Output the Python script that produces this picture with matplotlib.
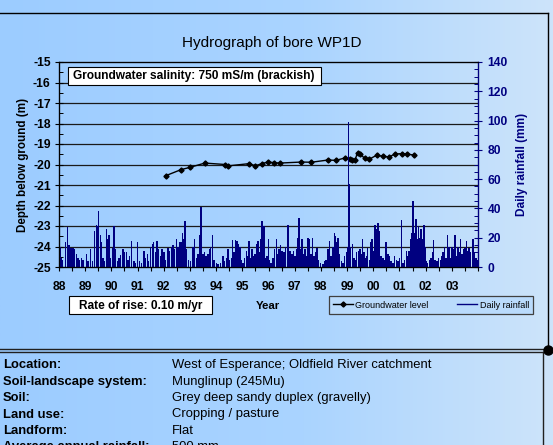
import numpy as np
import matplotlib
matplotlib.use("Agg")
import matplotlib.pyplot as plt
from matplotlib.lines import Line2D
from matplotlib.patches import Rectangle
from matplotlib.colors import LinearSegmentedColormap
from matplotlib.ticker import MultipleLocator, FixedLocator

plt.rcParams['font.family'] = ['Liberation Sans', 'DejaVu Sans']

# ---------------- data ----------------
gw_years = [1992.07, 1992.66, 1993.00, 1993.57, 1994.34, 1994.44, 1995.25, 1995.50,
            1995.74, 1995.97, 1996.22, 1996.43, 1997.26, 1997.64, 1998.28, 1998.57,
            1998.92, 1999.10, 1999.17, 1999.30, 1999.40, 1999.49, 1999.68, 1999.83,
            2000.13, 2000.38, 2000.61, 2000.82, 2001.08, 2001.29, 2001.55]
gw_depth = [-20.55, -20.25, -20.14, -19.93, -20.00, -20.07, -19.96, -20.06,
            -19.96, -19.88, -19.91, -19.93, -19.88, -19.89, -19.78, -19.80,
            -19.68, -19.75, -19.80, -19.80, -19.42, -19.49, -19.70, -19.75,
            -19.55, -19.60, -19.63, -19.49, -19.47, -19.49, -19.54]

rain_years = [
    1988.03, 1988.09, 1988.13, 1988.24, 1988.32, 1988.38, 1988.45, 1988.53, 1988.60, 1988.66,
    1988.73, 1988.79, 1988.85, 1988.92, 1989.04, 1989.11, 1989.21, 1989.27, 1989.36, 1989.44,
    1989.46, 1989.51, 1989.58, 1989.62, 1989.68, 1989.74, 1989.81, 1989.87, 1989.91, 1989.97,
    1990.04, 1990.10, 1990.15, 1990.23, 1990.29, 1990.34, 1990.44, 1990.51, 1990.57, 1990.63,
    1990.70, 1990.77, 1990.86, 1990.91, 1990.99, 1991.08, 1991.14, 1991.24, 1991.31, 1991.37,
    1991.42, 1991.50, 1991.56, 1991.61, 1991.69, 1991.74, 1991.80, 1991.87, 1991.93, 1992.01,
    1992.07, 1992.16, 1992.22, 1992.29, 1992.35, 1992.41, 1992.48, 1992.54, 1992.62, 1992.67,
    1992.71, 1992.77, 1992.81, 1992.87, 1992.95, 1993.03, 1993.11, 1993.18, 1993.25,
    1993.31, 1993.37, 1993.43, 1993.50, 1993.56, 1993.62, 1993.69, 1993.75, 1993.79, 1993.87,
    1993.92, 1994.01, 1994.07, 1994.17, 1994.26, 1994.32, 1994.39, 1994.45, 1994.51, 1994.58,
    1994.62, 1994.68, 1994.74, 1994.79, 1994.86, 1994.91, 1994.96, 1995.02, 1995.09, 1995.15,
    1995.21, 1995.25, 1995.32, 1995.37, 1995.43, 1995.49, 1995.55, 1995.60, 1995.67, 1995.72,
    1995.76, 1995.82, 1995.89, 1995.94, 1995.99, 1996.04, 1996.10, 1996.17, 1996.23, 1996.30,
    1996.36, 1996.40, 1996.46, 1996.51, 1996.59, 1996.65, 1996.72, 1996.75, 1996.82, 1996.89,
    1996.96, 1997.02, 1997.08, 1997.12, 1997.16, 1997.22, 1997.28, 1997.34, 1997.40, 1997.44,
    1997.50, 1997.57, 1997.63, 1997.68, 1997.73, 1997.80, 1997.86, 1997.91, 1997.99, 1998.08,
    1998.14, 1998.20, 1998.27, 1998.32, 1998.39, 1998.46, 1998.51, 1998.56, 1998.62,
    1998.65, 1998.71, 1998.78, 1998.84, 1998.90, 1998.97, 1999.01, 1999.06, 1999.07, 1999.13,
    1999.20, 1999.26, 1999.31, 1999.37, 1999.44, 1999.49, 1999.54, 1999.59, 1999.64, 1999.69,
    1999.76, 1999.79, 1999.86, 1999.90, 1999.96, 2000.02, 2000.06, 2000.11, 2000.18, 2000.24,
    2000.30, 2000.37, 2000.43, 2000.49, 2000.56, 2000.62, 2000.68, 2000.75, 2000.81, 2000.88,
    2000.94, 2001.00, 2001.07, 2001.13, 2001.19, 2001.26, 2001.32, 2001.36, 2001.42, 2001.47,
    2001.52, 2001.58, 2001.63, 2001.68, 2001.73, 2001.78, 2001.83, 2001.88, 2001.93, 2001.98,
    2002.03, 2002.08, 2002.15, 2002.21, 2002.26, 2002.31, 2002.36, 2002.43, 2002.49, 2002.56,
    2002.62, 2002.67, 2002.72, 2002.78, 2002.84, 2002.89, 2002.95, 2003.00, 2003.06, 2003.13,
    2003.18, 2003.23, 2003.28, 2003.33, 2003.39, 2003.45, 2003.51, 2003.56, 2003.61, 2003.66,
    2003.71, 2003.78, 2003.81, 2003.87, 2003.92, 2003.97]
rain_mm = [
    14, 6, 5, 17, 27, 15, 13, 13, 12, 9,
    6, 5, 6, 5, 9, 4, 12.5, 4, 24.6, 29,
    28, 38, 22, 17, 6, 4, 26, 19, 21.6, 6,
    13, 28, 12, 4, 6, 8, 12, 10, 10, 5,
    7.5, 18, 4, 3, 17, 4, 3, 11, 6, 9,
    4, 14, 15.5, 17, 10, 18, 12, 7.5, 12, 10,
    5, 13, 11, 14, 15, 12, 19, 14, 17, 17,
    23.5, 19, 31.5, 12, 5, 4, 14, 19, 6,
    9, 22, 41, 9, 10, 7.5, 9, 12, 14, 21.6,
    5, 3, 2, 3, 7.5, 4, 6, 12, 5, 6,
    18.5, 10, 18.5, 18, 15.5, 14, 5, 3, 6, 11,
    7.5, 18, 6, 12, 7.5, 9, 15.5, 18, 10, 19,
    31.5, 28, 6, 7.5, 19, 5, 3, 6, 12, 19.4,
    9, 12, 15, 11, 10, 14, 19, 28.7, 11, 9,
    11, 7.5, 12, 19.6, 33.7, 12, 19, 9, 12, 7.5,
    19.6, 19, 9, 19.6, 7.5, 10, 13, 5, 3, 2,
    4, 5, 12, 18, 7.5, 14, 23.5, 21, 17,
    20, 9, 4, 3, 7.5, 10, 14, 99, 57, 14,
    15.5, 6, 5, 10, 11, 12, 9, 19, 10, 6,
    7.5, 13, 5, 17, 19, 11, 28.5, 25.7, 30, 24.6,
    7.5, 6, 5, 17, 9, 7.5, 4, 3, 7.5, 5,
    4, 6, 32, 3, 5, 11, 7.5, 11, 19, 23.5,
    45, 23.5, 33, 19, 28, 20, 25.7, 19, 29, 14,
    4, 3, 5, 6, 10, 18.5, 5, 4, 6, 5,
    7.5, 10, 14, 6, 21.6, 14, 6, 14, 12, 22,
    7.5, 14, 10, 19, 9, 12, 13, 18, 11, 13,
    10, 12, 19.4, 10, 6, 5]

year_ticks = list(range(1988, 2004))
year_labels = ['88', '89', '90', '91', '92', '93', '94', '95', '96', '97',
               '98', '99', '00', '01', '02', '03']
depth_ticks = [-15, -16, -17, -18, -19, -20, -21, -22, -23, -24, -25]
rain_ticks = [0, 20, 40, 60, 80, 100, 120, 140]

info_labels = ['Location:', 'Soil-landscape system:', 'Soil:', 'Land use:', 'Landform:',
               'Average annual rainfall:']
info_values = ['West of Esperance; Oldfield River catchment', 'Munglinup (245Mu)',
               'Grey deep sandy duplex (gravelly)', 'Cropping / pasture', 'Flat', '500 mm']

NAVY = '#000080'
W, H = 553, 445
TICK_FS = 8.7

fig = plt.figure(figsize=(W / 100, H / 100), dpi=100)

# background gradient
bg = fig.add_axes([0, 0, 1, 1], zorder=-10)
cmap = LinearSegmentedColormap.from_list(
    'bg', [(0.0, (156/255, 204/255, 255/255)), (0.55, (170/255, 212/255, 255/255)),
           (1.0, (205/255, 228/255, 250/255))])
bg.imshow(np.linspace(0, 1, 256)[None, :], aspect='auto', cmap=cmap, extent=[0, 1, 0, 1])
bg.set_axis_off()

def fx(px):
    return px / W

def fy(py):
    return 1 - py / H

ax = fig.add_axes([fx(59), fy(267), fx(478) - fx(59), fy(62) - fy(267)])
ax.patch.set_alpha(0)
ax2 = ax.twinx()
ax2.patch.set_alpha(0)

# gridlines
for d in depth_ticks[1:-1]:
    ax.axhline(d, color='#1a1a1a', lw=0.9, zorder=0.5)

ax.plot(gw_years, gw_depth, color='black', lw=1.0, marker='D', markersize=2.6, zorder=3)
ax2.bar(rain_years, rain_mm, width=0.055, color=NAVY, linewidth=0, align='center')

ax.set_xlim(1988, 2004)
ax.set_ylim(-25, -15)
ax2.set_ylim(0, 140)

ax.xaxis.set_major_locator(FixedLocator(year_ticks))
ax.set_xticklabels(year_labels, fontsize=TICK_FS, fontweight='bold')
ax.xaxis.set_minor_locator(MultipleLocator(0.5))
ax.tick_params(axis='x', which='both', direction='out', length=3, width=0.8, pad=7)

ax.set_yticks(depth_ticks)
ax.set_yticklabels([str(t) for t in depth_ticks], fontsize=TICK_FS, fontweight='bold')
ax.yaxis.set_minor_locator(MultipleLocator(0.5))
ax.tick_params(axis='y', which='major', direction='inout', length=6, width=0.8, pad=3)
ax.tick_params(axis='y', which='minor', direction='in', length=3, width=0.7)

ax2.set_yticks(rain_ticks)
ax2.set_yticklabels([str(t) for t in rain_ticks], fontsize=TICK_FS, fontweight='bold', color=NAVY)
ax2.yaxis.set_minor_locator(MultipleLocator(5))
ax2.tick_params(axis='y', which='major', direction='inout', length=6, width=0.8, pad=4, color=NAVY)
ax2.tick_params(axis='y', which='minor', direction='in', length=3, width=0.7, color=NAVY)

for s in ['left', 'bottom', 'top']:
    ax2.spines[s].set_color('black')
    ax2.spines[s].set_linewidth(0.9)
ax2.spines['right'].set_color(NAVY)
ax2.spines['right'].set_linewidth(0.9)

ax.set_ylabel('Depth below ground (m)', fontsize=8.4, fontweight='bold')
ax.yaxis.set_label_coords(-0.072, 0.5)
ax2.set_ylabel('Daily rainfall (mm)', fontsize=8.6, fontweight='bold', color=NAVY)
ax2.yaxis.set_label_coords(1.091, 0.5)

fig.text(fx(272), fy(43), 'Hydrograph of bore WP1D', fontsize=11, ha='center', va='center')
fig.text(fx(268), fy(306), 'Year', fontsize=8.2, fontweight='bold', ha='center', va='center')

# salinity box
fig.add_artist(Rectangle((fx(68), fy(85)), fx(321) - fx(68), fy(67) - fy(85),
                         transform=fig.transFigure, fc='white', ec='black', lw=0.8, zorder=9))
fig.text(fx(73), fy(76.5), 'Groundwater salinity: 750 mS/m (brackish)', fontsize=8.6,
         fontweight='bold', ha='left', va='center', zorder=10)
# rate of rise box
fig.add_artist(Rectangle((fx(69), fy(314)), fx(212) - fx(69), fy(296) - fy(314),
                         transform=fig.transFigure, fc='white', ec='black', lw=0.8, zorder=9))
fig.text(fx(141), fy(305.5), 'Rate of rise: 0.10 m/yr', fontsize=8.6, fontweight='bold',
         ha='center', va='center', zorder=10)

handles = [Line2D([], [], color='black', lw=1.0, marker='D', markersize=2.6),
           Line2D([], [], color=NAVY, lw=1.0)]
leg = fig.legend(handles, ['Groundwater level', 'Daily rainfall'], ncol=2, loc='center',
                 bbox_to_anchor=(fx(431), fy(305)), fontsize=6.5, frameon=True,
                 fancybox=False, edgecolor='#404040', facecolor=(0.73, 0.86, 0.99),
                 framealpha=1, handlelength=2.2, handletextpad=0.3, columnspacing=3.2,
                 borderpad=0.45)
leg.get_frame().set_linewidth(0.9)

# frame lines
fig.add_artist(Line2D([fx(0), fx(548)], [fy(13), fy(13)], color='black', lw=1.0))
fig.add_artist(Line2D([fx(548), fx(548)], [fy(13), fy(349)], color='black', lw=1.0))
fig.add_artist(Line2D([fx(0), fx(548)], [fy(349), fy(349)], color='#202020', lw=1.0))
fig.add_artist(Line2D([fx(0), fx(548)], [fy(352), fy(352)], color='#202020', lw=1.0))
fig.add_artist(Line2D([fx(543), fx(543)], [fy(352), fy(445)], color='#202020', lw=1.0))
fig.add_artist(Line2D([fx(548)], [fy(350)], color='black', marker='o', markersize=6.5, lw=0))

for i, (lab, val) in enumerate(zip(info_labels, info_values)):
    y = fy(365 + 16.5 * i)
    fig.text(fx(3), y, lab, fontsize=9.4, fontweight='bold', ha='left', va='center')
    fig.text(fx(172), y, val, fontsize=9.4, ha='left', va='center')

fig.savefig('out.png', dpi=100)
